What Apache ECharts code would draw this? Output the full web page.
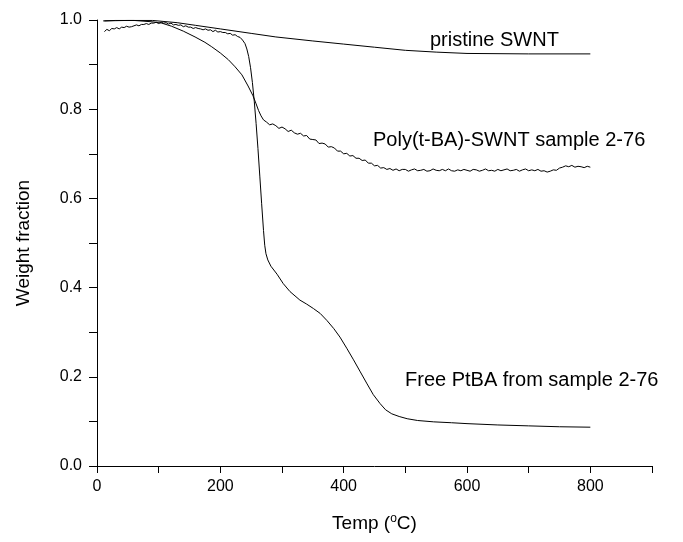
<!DOCTYPE html>
<html>
<head>
<meta charset="utf-8">
<title>TGA weight fraction</title>
<script src="https://cdn.jsdelivr.net/npm/echarts@6/dist/echarts.min.js"></script>
<style>
    html, body { margin: 0; padding: 0; background: #fff; }
    #chart { width: 683px; height: 542px; }
</style>
</head>
<body>
<div id="chart"></div>
<script>
// pristine SWNT
const pristineT = [10, 50, 90, 130, 160, 200, 250, 290, 350, 400, 450, 500, 550, 600, 700, 800];
const pristineW = [0.998, 0.999, 0.999, 0.994, 0.988, 0.980, 0.970, 0.962, 0.953, 0.946, 0.939, 0.932, 0.928, 0.925, 0.924, 0.924];

// Poly(t-BA)-SWNT sample 2-76, smooth until ~270, noisy plateau afterwards
const polyT = [12, 30, 60, 89, 105, 121, 140, 159, 175, 186, 200, 213, 224, 235, 245, 253, 258, 262, 266, 270,
    275, 280, 285, 290, 295, 300, 305, 310, 315, 320, 325, 330, 335, 340, 345, 350, 355, 360, 365, 370,
    375, 380, 385, 390, 395, 400, 405, 410, 415, 420, 425, 430, 435, 440, 445, 450, 455, 460, 465, 470,
    475, 480, 485, 490, 495, 500, 505, 510, 515, 520, 525, 530, 535, 540, 545, 550, 555, 560, 565, 570,
    575, 580, 585, 590, 595, 600, 605, 610, 615, 620, 625, 630, 635, 640, 645, 650, 655, 660, 665, 670,
    675, 680, 685, 690, 695, 700, 705, 710, 715, 720, 725, 730, 735, 740, 745, 750, 755, 760, 765, 770,
    775, 780, 785, 790, 795, 800];
const polyW = [0.998, 0.999, 0.999, 0.996, 0.993, 0.986, 0.975, 0.962, 0.950, 0.940, 0.926, 0.911, 0.895, 0.877, 0.852, 0.830, 0.812, 0.797, 0.785, 0.776,
    0.771, 0.765, 0.767, 0.763, 0.757, 0.760, 0.756, 0.750, 0.753, 0.747, 0.744, 0.746, 0.740, 0.741, 0.733, 0.732, 0.731, 0.723, 0.724, 0.722,
    0.715, 0.716, 0.713, 0.706, 0.706, 0.700, 0.701, 0.695, 0.696, 0.690, 0.690, 0.685, 0.686, 0.679, 0.679, 0.673, 0.674, 0.668, 0.669, 0.665,
    0.667, 0.663, 0.666, 0.662, 0.665, 0.665, 0.661, 0.664, 0.666, 0.662, 0.663, 0.665, 0.661, 0.662, 0.666, 0.663, 0.662, 0.665, 0.662, 0.666,
    0.662, 0.661, 0.664, 0.662, 0.665, 0.663, 0.661, 0.665, 0.664, 0.661, 0.663, 0.666, 0.662, 0.663, 0.661, 0.665, 0.662, 0.664, 0.666, 0.662,
    0.663, 0.665, 0.661, 0.664, 0.666, 0.662, 0.664, 0.662, 0.665, 0.661, 0.662, 0.659, 0.661, 0.664, 0.663, 0.668, 0.670, 0.673, 0.671, 0.674,
    0.670, 0.672, 0.671, 0.669, 0.672, 0.670];

// Free PtBA from sample 2-76, noisy start then smooth two-step decomposition
const freeT = [12, 16, 20, 24, 28, 32, 36, 40, 44, 48, 52, 56, 60, 64, 68, 72, 76, 80, 84, 88,
    92, 96, 100, 104, 108, 112, 116, 120, 124, 128, 132, 136, 140, 144, 148, 152, 156, 160, 164, 168,
    172, 176, 180, 184, 188, 192, 196, 200, 204, 208, 212, 216, 220, 224, 228, 232, 236, 240,
    243, 246, 249, 252, 255, 258, 261, 264, 267, 270, 272, 274, 277, 282, 292, 302, 313, 329, 340, 351,
    362, 373, 384, 394, 405, 416, 427, 438, 448, 459, 468, 478, 490, 503, 520, 546, 575, 600, 650, 700, 750, 800];
const freeW = [0.974, 0.979, 0.976, 0.981, 0.980, 0.983, 0.980, 0.984, 0.983, 0.986, 0.984, 0.985, 0.987, 0.989, 0.987, 0.990, 0.990, 0.992, 0.990, 0.993,
    0.993, 0.995, 0.992, 0.995, 0.993, 0.994, 0.991, 0.993, 0.989, 0.990, 0.988, 0.989, 0.985, 0.987, 0.984, 0.984, 0.981, 0.983, 0.981, 0.980,
    0.978, 0.980, 0.977, 0.978, 0.974, 0.977, 0.973, 0.974, 0.972, 0.972, 0.969, 0.970, 0.966, 0.967, 0.963, 0.961, 0.955, 0.947,
    0.935, 0.918, 0.893, 0.860, 0.818, 0.768, 0.712, 0.650, 0.588, 0.528, 0.495, 0.476, 0.462, 0.448, 0.430, 0.409, 0.391, 0.372, 0.363, 0.353,
    0.342, 0.326, 0.308, 0.289, 0.264, 0.238, 0.211, 0.184, 0.160, 0.140, 0.126, 0.117, 0.111, 0.106, 0.102, 0.099, 0.097, 0.095, 0.092, 0.090, 0.088, 0.087];

const curveLabels = [
    { text: 'pristine SWNT', x: 430, y: 40 },
    { text: 'Poly(t-BA)-SWNT sample 2-76', x: 373, y: 140 },
    { text: 'Free PtBA from sample 2-76', x: 405, y: 380 }
];

const font = 'Liberation Sans, Arial, Helvetica, sans-serif';

const pairs = (xs, ys) => xs.map((x, i) => [x, ys[i]]);

const lineSeries = (name, xs, ys) => ({
    name: name,
    type: 'line',
    showSymbol: false,
    smooth: false,
    lineStyle: { color: '#000', width: 1 },
    data: pairs(xs, ys)
});

const myChart = echarts.init(document.getElementById('chart'));
myChart.setOption({
    animation: false,
    backgroundColor: '#fff',
    grid: {
        left: 97,
        right: 31,
        top: 20,
        bottom: 76
    },
    xAxis: {
        type: 'value',
        min: 0,
        max: 900,
        interval: 100,
        name: 'Temp ({sup|o}C)',
        nameLocation: 'middle',
        nameGap: 47,
        nameTextStyle: {
            color: '#000',
            fontSize: 19,
            fontFamily: font,
            lineHeight: 22,
            rich: {
                sup: { fontSize: 12, fontFamily: font, color: '#000', verticalAlign: 'top', lineHeight: 22 }
            }
        },
        axisLine: { lineStyle: { color: '#000', width: 1 } },
        axisTick: { length: 7, lineStyle: { color: '#000' } },
        splitLine: { show: false },
        axisLabel: {
            color: '#000',
            fontSize: 16,
            fontFamily: font,
            margin: 13,
            formatter: v => (v % 200 === 0 && v <= 800) ? String(v) : ''
        }
    },
    yAxis: {
        type: 'value',
        min: 0,
        max: 1,
        interval: 0.1,
        name: 'Weight fraction',
        nameLocation: 'middle',
        nameGap: 64,
        nameTextStyle: { color: '#000', fontSize: 19, fontFamily: font },
        axisLine: { show: true, lineStyle: { color: '#000', width: 1 } },
        axisTick: { show: true, length: 8, lineStyle: { color: '#000' } },
        splitLine: { show: false },
        axisLabel: {
            color: '#000',
            fontSize: 16,
            fontFamily: font,
            margin: 15,
            formatter: v => Math.round(v * 10) % 2 === 0 ? v.toFixed(1) : ''
        }
    },
    graphic: curveLabels.map(l => ({
        type: 'text',
        x: l.x,
        y: l.y,
        style: {
            text: l.text,
            fill: '#000',
            fontSize: 20,
            fontFamily: font,
            verticalAlign: 'middle'
        }
    })),
    series: [
        lineSeries('pristine SWNT', pristineT, pristineW),
        lineSeries('Poly(t-BA)-SWNT sample 2-76', polyT, polyW),
        lineSeries('Free PtBA from sample 2-76', freeT, freeW)
    ]
});
</script>
</body>
</html>
